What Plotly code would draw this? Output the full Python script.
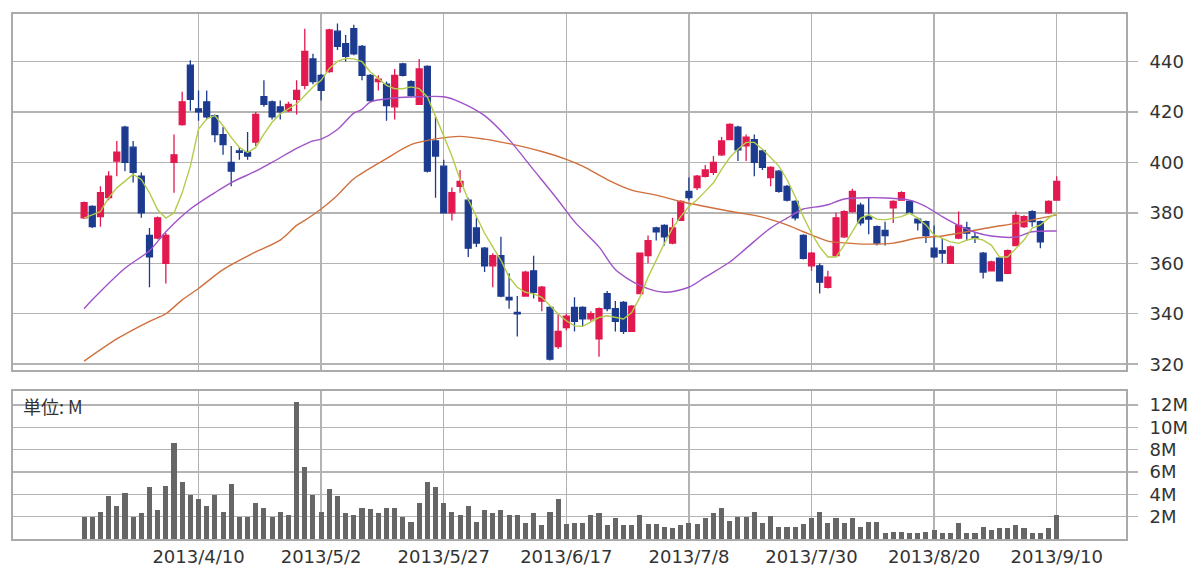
import plotly.graph_objects as go

# ---- data ----
open_ = [378, 382.5, 378.5, 386, 400.5, 414, 406, 394.5, 371, 370,
         360, 400, 415, 438.5, 421.2, 424, 418.5, 411, 400, 404.5,
         404, 408, 426, 424, 422, 420.5, 425, 430.5, 441, 434.5,
         436, 452, 447, 453, 446, 434.5, 432, 431, 422, 439,
         432, 423, 438, 408.5, 398.5, 380, 390.5, 385, 374, 366,
         359, 363, 346.5, 340.5, 347, 357, 345, 342.5, 327, 334.5,
         342.5, 342.5, 338, 330, 348, 342, 344.5, 333, 348, 363,
         374, 375, 368, 377, 388.5, 390, 394.5, 396, 403, 409,
         414, 406.5, 409, 404.5, 394, 396.5, 390.5, 384.5, 371, 359,
         359, 350.5, 363, 370.5, 380.5, 383, 378.5, 374.5, 373, 382,
         385, 384.5, 377.5, 376.5, 366, 365, 360, 370, 374, 370.5,
         364, 357, 362, 356, 367, 374.5, 380.5, 376.5, 380, 385]
high = [384.5, 383, 390.5, 396.5, 408.5, 414.5, 408.5, 396, 374, 378.5,
        372, 411, 428, 440.5, 428.5, 428.5, 419, 414, 406.5, 406,
        412, 420, 432.5, 424.5, 424.5, 424, 432.5, 453, 443, 435,
        453, 455, 450.5, 454.5, 446.5, 435, 434.5, 432, 437, 439.5,
        432.5, 441, 438.5, 418, 401, 390, 397, 386, 378, 366.5,
        364, 370.5, 356, 347, 357, 363, 351, 343, 340, 340,
        346.5, 343, 341, 342.5, 349, 345, 345, 343.5, 364, 371,
        374.5, 375.5, 378, 385, 394, 395, 399, 402.5, 410, 415.5,
        414.5, 411, 411, 405, 398.5, 397, 391, 385, 371.5, 364.5,
        360, 357, 380, 381, 389.5, 384, 386, 375, 376.5, 385,
        388.5, 385, 378, 377, 375, 370, 367, 380.5, 376.5, 372,
        364.5, 361, 362.5, 365.5, 380.5, 379, 381, 377, 385, 394.5]
low = [377.5, 374, 374.5, 385, 394.5, 396.5, 392, 378, 350.5, 369.5,
       352, 388, 414.5, 420.5, 416.5, 417, 408, 403, 390.5, 401,
       401, 406.5, 422, 417, 417, 420, 419, 429, 431, 424.5,
       435.5, 444.5, 440, 442.5, 432.5, 424, 428.5, 416.5, 417, 434,
       426, 423, 396, 386, 380, 377, 388, 362.5, 366.5, 356.5,
       350.5, 346.5, 342, 331, 347, 346, 341, 321.5, 326, 333.5,
       333, 335, 337, 323, 341, 333, 332, 333, 348, 360,
       369, 367, 367.5, 377, 385, 389, 394, 395, 402.5, 409,
       400.5, 400.5, 394.5, 397, 390.5, 388, 384.5, 377, 361.5, 357,
       348, 350, 363, 370, 380, 375, 371.5, 367, 367, 376,
       385, 379.5, 373, 368, 362, 360, 360, 369.5, 369, 368,
       354, 357, 353, 356, 367, 374, 374.5, 366, 379.5, 385]
close = [384, 374.5, 388, 394.5, 404, 400, 396, 380, 362.5, 378,
         371, 403, 424, 425, 420, 418, 411, 407, 396.5, 404,
         402.5, 419, 423, 418, 420, 423, 428.5, 444, 432, 428.5,
         452.5, 446, 442, 443, 434.5, 424.5, 433, 422.5, 434.5, 434.5,
         426.5, 437, 396.5, 402.5, 380, 388, 392.5, 366, 368, 359,
         363, 347, 345.5, 340, 356.5, 348.5, 350.5, 322, 333, 339,
         337, 338, 340, 342, 342, 337, 333, 343, 364, 369,
         372.5, 370.5, 374, 384.5, 386, 394.5, 397, 400, 408.5, 415,
         405, 410, 400, 398, 398, 388.5, 385, 378, 362, 364,
         352.5, 354.5, 378, 380.5, 388.5, 376, 377.5, 368, 371, 384.5,
         388, 380, 376, 371, 362.5, 364, 366.5, 375, 372, 370,
         356.5, 360.5, 353, 365, 379, 378.5, 376.5, 368.5, 384.5, 392.5]
volume_m = [1.94, 1.94, 2.45, 3.85, 2.96, 4.09, 1.94, 2.3, 4.63, 2.6,
            4.75, 8.63, 5.13, 3.94, 3.58, 2.96, 3.94, 2.45, 4.93, 1.94,
            1.94, 3.25, 2.81, 1.94, 2.45, 2.15, 12.3, 6.42, 3.94, 2.45,
            4.45, 3.85, 2.3, 2.15, 2.81, 2.66, 2.3, 2.81, 2.81, 1.94,
            1.55, 3.25, 5.13, 4.63, 3.25, 2.45, 2.15, 2.96, 1.55, 2.6,
            2.3, 2.6, 2.15, 2.15, 1.46, 2.3, 1.25, 2.45, 3.58, 1.31,
            1.4, 1.46, 2.15, 2.3, 1.25, 1.85, 1.25, 1.25, 2.15, 1.31,
            1.31, 1.1, 0.96, 1.25, 1.46, 1.31, 1.85, 2.3, 2.81, 1.61,
            1.94, 1.94, 2.45, 1.46, 2.09, 1.1, 1.1, 1.1, 1.31, 1.85,
            2.45, 1.46, 1.85, 1.4, 1.85, 1.1, 1.55, 1.55, 0.57, 0.66,
            0.66, 0.51, 0.57, 0.66, 0.81, 0.57, 0.51, 1.4, 0.57, 0.57,
            1.1, 0.81, 0.96, 0.96, 1.25, 0.96, 0.51, 0.51, 0.96, 2.15]

# short moving average
ma_short_idx = [0, 2, 3, 4, 6, 7, 8, 9, 10, 11, 12, 13, 14, 15, 16, 17, 18, 19,
                20, 21, 22, 23, 24, 25, 26, 27, 28, 29, 30, 31, 32, 33, 34, 35,
                36, 37, 38, 39, 40, 41, 42, 43, 44, 45, 46, 47, 48, 49, 50, 51,
                52, 53, 54, 55, 56, 57, 58, 59, 60, 61, 62, 63, 64, 65, 66, 67,
                68, 69, 70, 71, 72, 73, 74, 75, 76, 77, 78, 79, 80, 81, 82, 83,
                84, 85, 86, 87, 88, 89, 90, 91, 92, 93, 94, 95, 96, 97, 98, 99,
                100, 101, 102, 103, 104, 105, 106, 107, 108, 109, 110, 111, 112,
                113, 114, 115, 116, 117, 118, 119]
ma_short_val = [377.9, 380.5, 385.9, 389.9, 395.2, 393.2, 387.9, 381.2, 377.9, 379.9,
                387.9, 398.5, 413.2, 417.2, 418.5, 414.5, 409.9, 405.9, 403.9, 405.9,
                411.2, 415.9, 419.2, 421.2, 423.2, 426.5, 429.9, 432.5, 437.2, 440,
                441.2, 441, 439.9, 435.9, 433.2, 430.5, 429.2, 429.2, 429.9, 429.2,
                425.9, 418.5, 410.5, 402.5, 393.2, 385.2, 378.5, 371.9, 366.5, 361.2,
                354.5, 350.5, 348.5, 347.9, 346.5, 343.2, 339.9, 337.2, 335.2, 335,
                336.8, 338.5, 339.2, 338.5, 337.9, 340.5, 346.5, 354.5, 361.2, 367.9,
                373.9, 378.5, 382.5, 385.2, 388.5, 391.9, 397.2, 401.9, 405.2, 407.9,
                407.9, 405.2, 401.9, 398.5, 393.2, 386.5, 378.5, 371.9, 366.5, 362.5,
                362.5, 367.2, 372.5, 377.9, 379.2, 377.5, 377.2, 377.9, 378.5, 379.9,
                377.9, 375.2, 371.2, 369.9, 368.5, 367.9, 369.2, 369.9, 369.2, 367.2,
                362.5, 362.5, 365.9, 369.2, 373.9, 375.2, 377.9, 379.9]

# medium moving average (purple line)
ma_mid_idx = [0, 1, 5, 8, 10, 13, 16, 18, 21, 23, 26, 28, 29, 31, 33, 34, 35, 38,
              41, 44, 46, 49, 52, 55, 58, 60, 63, 65, 68, 71, 74, 76, 79, 81, 84,
              86, 88, 90, 91, 93, 96, 98, 101, 103, 105, 107, 109, 111, 114, 116, 119]
ma_mid_val = [342, 345.5, 358, 365, 372.5, 381.5, 388, 392, 396.5, 400, 405.5, 408.5,
              409.2, 413, 419.5, 421, 423.9, 425.5, 426, 426, 423.9, 418.5, 409, 397,
              385, 376.5, 366.5, 357.5, 351.2, 348.5, 350.5, 354.5, 360.5, 365.9, 374,
              377.9, 381.5, 382.5, 383.2, 385.5, 386, 385.9, 385, 382.5, 378.5, 375,
              372.3, 370.8, 370.4, 372.5, 372.8]

# long moving average (orange line)
ma_long_idx = [0, 4, 8, 10, 12, 14, 17, 21, 24, 26, 27, 29, 31, 33, 37, 40, 43, 46,
               49, 52, 56, 59, 61, 64, 67, 70, 73, 76, 79, 83, 86, 88, 91, 93, 96,
               99, 102, 105, 108, 111, 114, 116, 119]
ma_long_val = [321.2, 330, 337, 340, 345.5, 350, 357.5, 364.5, 369.2, 375, 377, 381.5,
               387, 393.5, 401.5, 407, 409.3, 410.3, 409.2, 407.4, 404.3, 401.2, 398.5,
               393.2, 389, 387, 384.5, 382.5, 380.6, 378.3, 375.2, 372.5, 368.8, 368.1,
               367.6, 368, 370, 370.8, 372.5, 374.3, 375.8, 377.2, 379.2]

date_idx = [14, 29, 44, 59, 74, 89, 104, 119]
date_labels = ["2013/4/10", "2013/5/2", "2013/5/27", "2013/6/17",
               "2013/7/8", "2013/7/30", "2013/8/20", "2013/9/10"]
price_ticks = [320, 340, 360, 380, 400, 420, 440]
vol_ticks = [2, 4, 6, 8, 10, 12]
vol_tick_text = ["2M", "4M", "6M", "8M", "10M", "12M"]

days = list(range(len(close)))

# ---- styling ----
GRID = "#b3b3b3"
BORDER = "#aaaaaa"
TXT = "#333333"
FONT = "DejaVu Sans"
UP = "#e2194f"
DOWN = "#1c3b8f"

fig = go.Figure()

fig.add_trace(go.Candlestick(
    x=days, open=open_, high=high, low=low, close=close,
    increasing=dict(line=dict(color=UP, width=1.3), fillcolor=UP),
    decreasing=dict(line=dict(color=DOWN, width=1.3), fillcolor=DOWN),
    whiskerwidth=0, xaxis="x", yaxis="y", hoverinfo="skip", showlegend=False))

fig.add_trace(go.Scatter(x=ma_long_idx, y=ma_long_val, mode="lines",
                         line=dict(color="#d0703c", width=1.4, shape="spline", smoothing=0.8),
                         xaxis="x", yaxis="y", hoverinfo="skip", showlegend=False))
fig.add_trace(go.Scatter(x=ma_mid_idx, y=ma_mid_val, mode="lines",
                         line=dict(color="#a052c8", width=1.4, shape="spline", smoothing=0.8),
                         xaxis="x", yaxis="y", hoverinfo="skip", showlegend=False))
fig.add_trace(go.Scatter(x=ma_short_idx, y=ma_short_val, mode="lines",
                         line=dict(color="#b3cc4a", width=1.4),
                         xaxis="x", yaxis="y", hoverinfo="skip", showlegend=False))

fig.add_trace(go.Bar(x=days, y=volume_m, marker=dict(color="#666666", line=dict(width=0)),
                     width=0.62, xaxis="x2", yaxis="y2", hoverinfo="skip", showlegend=False))

xrange = [-8.70, 127.48]
common_x = dict(range=xrange, tickvals=date_idx, showgrid=True, gridcolor=GRID, gridwidth=1.5,
                showline=True, linecolor=BORDER, linewidth=2, mirror=True, zeroline=False,
                ticks="", fixedrange=True, automargin=False)
common_y = dict(side="right", showgrid=True, gridcolor=GRID, gridwidth=1.5,
                showline=True, linecolor=BORDER, linewidth=2, mirror=True,
                ticks="outside", ticklen=10, tickcolor=GRID, tickwidth=1.5,
                ticklabelstandoff=8, zeroline=False, fixedrange=True, automargin=False,
                tickfont=dict(family=FONT, size=18, color=TXT))

fig.update_layout(
    width=1200, height=573,
    margin=dict(l=13, r=74, t=14, b=34, autoexpand=False),
    paper_bgcolor="white", plot_bgcolor="white",
    boxgap=0.15, boxgroupgap=0.15,
    bargap=0,
    font=dict(family=FONT, size=18, color=TXT),
    xaxis=dict(common_x, anchor="y", showticklabels=False,
               rangeslider=dict(visible=False)),
    yaxis=dict(common_y, domain=[0.3219, 1.0], range=[317.7, 458.8],
               tickvals=price_ticks),
    xaxis2=dict(common_x, anchor="y2", showticklabels=True, ticktext=date_labels,
                tickfont=dict(family=FONT, size=18, color=TXT)),
    yaxis2=dict(common_y, domain=[0, 0.2825], range=[0, 13.28],
                tickvals=vol_ticks, ticktext=vol_tick_text),
    showlegend=False,
    annotations=[dict(text="単位: M", xref="paper", yref="paper",
                      x=(21 - 13) / 1113, y=(539 - 406) / 525,
                      xanchor="left", yanchor="middle", showarrow=False,
                      font=dict(family="Noto Sans CJK JP", size=18, color=TXT))],
)

fig.write_html("out.html", config=dict(displayModeBar=False, staticPlot=True))
